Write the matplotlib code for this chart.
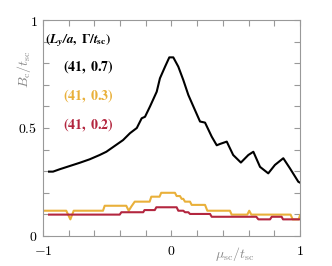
import matplotlib
matplotlib.use("Agg")
import matplotlib.pyplot as plt
import numpy as np

plt.rcParams["mathtext.fontset"] = "cm"
plt.rcParams["font.family"] = "serif"
plt.rcParams["font.serif"] = ["DejaVu Serif"]

# data
black_x = [-0.953, -0.922, -0.87, -0.792, -0.714, -0.637, -0.559, -0.507, -0.442,
           -0.377, -0.323, -0.27, -0.232, -0.206, -0.167, -0.115, -0.09, -0.05,
           -0.017, 0.014, 0.053, 0.092, 0.131, 0.17, 0.222, 0.261, 0.313, 0.352,
           0.377, 0.43, 0.48, 0.54, 0.598, 0.637, 0.689, 0.753, 0.805, 0.87,
           0.922, 0.987, 1.0]
black_y = [0.298, 0.298, 0.309, 0.324, 0.339, 0.355, 0.375, 0.39, 0.417, 0.444,
           0.476, 0.50, 0.545, 0.552, 0.60, 0.668, 0.73, 0.784, 0.827, 0.827,
           0.784, 0.722, 0.653, 0.60, 0.53, 0.525, 0.46, 0.42, 0.426, 0.437,
           0.375, 0.34, 0.375, 0.39, 0.32, 0.29, 0.329, 0.36, 0.313, 0.251, 0.247]

yellow_x = [-1.0, -0.819, -0.787, -0.761, -0.533, -0.52, -0.352, -0.333, -0.313,
            -0.286, -0.17, -0.157, -0.093, -0.08, 0.027, 0.04, 0.066, 0.079,
            0.092, 0.105, 0.144, 0.157, 0.261, 0.279, 0.455, 0.468, 0.59, 0.605,
            0.621, 0.927, 0.943, 0.99, 1.0]
yellow_y = [0.117, 0.117, 0.077, 0.117, 0.117, 0.140, 0.140, 0.117, 0.136, 0.159,
            0.159, 0.182, 0.182, 0.20, 0.20, 0.185, 0.185, 0.172, 0.172, 0.159,
            0.159, 0.144, 0.144, 0.117, 0.117, 0.099, 0.099, 0.117, 0.099, 0.099,
            0.077, 0.077, 0.096]

red_x = [-0.953, -0.403, -0.39, -0.22, -0.21, -0.13, -0.118, 0.04, 0.053, 0.092,
         0.105, 0.131, 0.144, 0.3, 0.313, 0.66, 0.676, 0.767, 0.78, 0.857, 0.868, 1.0]
red_y = [0.099, 0.099, 0.11, 0.11, 0.12, 0.12, 0.133, 0.133, 0.117, 0.117, 0.11,
         0.11, 0.102, 0.102, 0.089, 0.089, 0.077, 0.077, 0.089, 0.089, 0.077, 0.077]

labels = [r"$\mathbf{(41,\ 0.7)}$", r"$\mathbf{(41,\ 0.3)}$", r"$\mathbf{(41,\ 0.2)}$"]
colors = ["black", "#E9B03A", "#B3263F"]
label_y = [0.782, 0.648, 0.514]

fig = plt.figure(figsize=(3.32, 2.66), dpi=100)
ax = fig.add_axes([0.1295, 0.1128, 0.7741, 0.812])

ax.plot(black_x, black_y, color=colors[0], lw=1.5)
ax.plot(yellow_x, yellow_y, color=colors[1], lw=1.5)
ax.plot(red_x, red_y, color=colors[2], lw=1.5)

ax.text(-0.985, 0.903, r"$\mathbf{(}\mathbfit{L_y/a}\mathbf{,\ \Gamma/}\mathbfit{t}_\mathbf{sc}\mathbf{)}$",
        fontsize=9.5, va="center", ha="left", math_fontfamily="stix")
for lab, c, yy in zip(labels, colors, label_y):
    ax.text(-0.844, yy, lab, color=c, fontsize=10, va="center", ha="left",
            math_fontfamily="stix")

ax.set_xlim(-1, 1)
ax.set_ylim(0, 1)
xt = np.round(np.arange(-1, 1.01, 0.2), 1)
ax.set_xticks(xt)
ax.set_xticklabels([r"$-1$" if v == -1 else r"$0$" if v == 0 else r"$1$" if v == 1 else "" for v in xt])
yt = np.round(np.arange(0, 1.01, 0.1), 1)
ax.set_yticks(yt)
ax.set_yticklabels([r"$0$" if v == 0 else r"$0.5$" if v == 0.5 else r"$1$" if v == 1 else "" for v in yt])
ax.tick_params(direction="in", length=4, width=0.8, color="#999999",
               top=True, right=True, labelsize=10)
ax.tick_params(axis="x", pad=6)
ax.tick_params(axis="y", pad=4)
for s in ax.spines.values():
    s.set_color("#999999")
    s.set_linewidth(0.8)

ax.set_xlabel(r"$\mu_\mathrm{sc}/t_\mathrm{sc}$", color="#888888", fontsize=10)
ax.xaxis.set_label_coords(0.747, -0.04)
ax.set_ylabel(r"$B_\mathrm{c}/t_\mathrm{sc}$", color="#888888", fontsize=10)
ax.yaxis.set_label_coords(-0.04, 0.77)

fig.savefig("out.png", dpi=100)
